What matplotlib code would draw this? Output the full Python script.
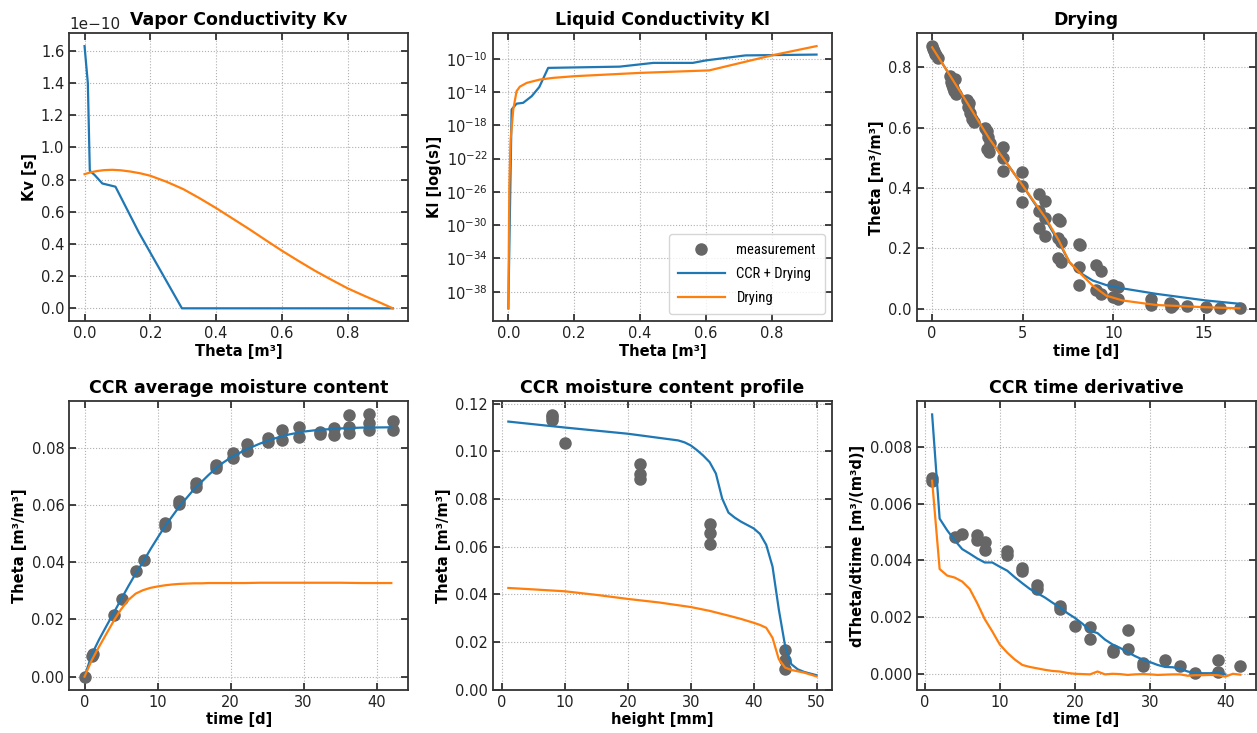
import numpy as np
import matplotlib
matplotlib.use('Agg')
import matplotlib.pyplot as plt

# --- Vapor conductivity Kv (units of 1e-10 s) ---
kv_theta_ccr = [0.0, 0.01, 0.016, 0.031, 0.054, 0.094, 0.165, 0.296, 0.5, 0.7, 0.937]
kv_ccr = [1.63, 1.40, 0.855, 0.828, 0.776, 0.756, 0.472, 0.0, 0.0, 0.0, 0.0]
kv_theta_dry = [0.0, 0.02, 0.04, 0.06, 0.084, 0.11, 0.14, 0.17, 0.2, 0.25, 0.3, 0.35, 0.4,
                0.45, 0.5, 0.55, 0.6, 0.65, 0.7, 0.75, 0.8, 0.85, 0.9, 0.937]
kv_dry = [0.834, 0.846, 0.854, 0.859, 0.861, 0.858, 0.850, 0.839, 0.824, 0.786, 0.741, 0.684,
          0.623, 0.558, 0.493, 0.425, 0.358, 0.295, 0.234, 0.178, 0.124, 0.078, 0.034, 0.0]

# --- Liquid conductivity Kl (log10 values) ---
kl_theta_ccr = [0.0, 0.01, 0.025, 0.045, 0.071, 0.094, 0.121, 0.338, 0.44, 0.56, 0.6, 0.72, 0.936]
kl_ccr_log = [-40.0, -16.1, -15.4, -15.3, -14.5, -13.4, -11.1, -10.95, -10.5, -10.5, -10.2, -9.6, -9.5]
kl_theta_dry = [0.0, 0.003, 0.007, 0.015, 0.025, 0.035, 0.056, 0.096, 0.136, 0.2, 0.3, 0.4, 0.54, 0.61, 0.8, 0.936]
kl_dry_log = [-40.0, -25.3, -19.7, -16.1, -13.9, -13.36, -12.9, -12.5, -12.3, -12.1, -11.9, -11.7, -11.5, -11.4, -9.6, -8.48]

# --- Drying ---
dry_t_meas = [0.0, 0.05, 0.1, 0.15, 0.2, 0.3, 1.0, 1.05, 1.1, 1.15, 1.2, 1.3, 1.25,
              1.9, 2.0, 2.1, 2.2, 2.3, 2.05, 2.9, 3.0, 3.1, 3.2, 3.05, 3.15,
              3.9, 3.9, 3.9, 4.96, 4.96, 4.96, 5.92, 6.2, 5.92, 6.2, 5.92, 6.2,
              6.93, 7.05, 6.95, 7.1, 6.93, 7.1, 8.09, 8.15, 8.1, 8.1, 9.04, 9.3, 9.04, 9.3,
              9.96, 10.25, 9.96, 10.25, 12.1, 12.1, 13.1, 13.2, 13.3, 14.06, 15.1, 15.9, 17.0]
dry_theta_meas = [0.87, 0.86, 0.855, 0.845, 0.84, 0.83, 0.77, 0.75, 0.74, 0.73, 0.72, 0.71, 0.76,
                  0.69, 0.67, 0.65, 0.63, 0.62, 0.68, 0.60, 0.59, 0.57, 0.55, 0.53, 0.52,
                  0.535, 0.50, 0.455, 0.453, 0.408, 0.355, 0.38, 0.357, 0.325, 0.30, 0.267, 0.24,
                  0.298, 0.29, 0.234, 0.22, 0.168, 0.155, 0.215, 0.21, 0.138, 0.08, 0.146, 0.127, 0.061, 0.05,
                  0.08, 0.072, 0.039, 0.033, 0.033, 0.014, 0.02, 0.006, 0.012, 0.011, 0.006, 0.002, 0.002]
dry_t_model = [0.0, 1.69, 3.16, 5.0, 6.29, 7.0, 7.57, 8.12, 8.86, 9.6, 10.5, 12.35, 15.1, 16.95]
dry_ccr = [0.866, 0.706, 0.563, 0.408, 0.292, 0.22, 0.155, 0.121, 0.094, 0.079, 0.068, 0.05, 0.028, 0.017]
dry_dry = [0.866, 0.706, 0.563, 0.408, 0.298, 0.225, 0.155, 0.121, 0.077, 0.044, 0.028, 0.013, 0.0055, 0.002]

# --- CCR average moisture content ---
avg_t_meas = [0, 1.1, 1.0, 4, 5.1, 7.1, 8.1, 11, 11, 13, 13, 15.2, 15.2, 18, 18, 20.3, 20.3,
              22.3, 22.3, 25.1, 25.1, 27, 27, 29.3, 29.3, 32.2, 32.2, 34.1, 34.1,
              36.2, 36.2, 36.2, 39, 39, 39, 42.2, 42.2]
avg_theta_meas = [0.0, 0.0078, 0.0072, 0.0214, 0.027, 0.0368, 0.0409, 0.0536, 0.0525, 0.0612, 0.0603,
                  0.0676, 0.0664, 0.0740, 0.0728, 0.0781, 0.0763, 0.0813, 0.0788, 0.0833, 0.0818,
                  0.0862, 0.0827, 0.0873, 0.0838, 0.0856, 0.0848, 0.0867, 0.0844,
                  0.0914, 0.0873, 0.085, 0.0916, 0.0885, 0.0862, 0.0893, 0.0862]
avg_t_model = [0, 1, 2, 3, 4, 5, 6, 7, 8, 9, 10, 11, 12, 13, 14, 15, 16, 17, 18, 19, 20,
               22, 24, 26, 28, 30, 32, 35, 38, 42]
avg_ccr = [0.0, 0.0078, 0.013, 0.0177, 0.0223, 0.027, 0.0316, 0.036, 0.040, 0.0444, 0.0485,
           0.0525, 0.056, 0.0595, 0.0625, 0.0655, 0.068, 0.0705, 0.0728, 0.0748, 0.0765,
           0.0792, 0.0814, 0.0832, 0.0846, 0.0856, 0.0862, 0.0867, 0.087, 0.0871]
avg_dry = [0.0, 0.0058, 0.0105, 0.015, 0.0195, 0.0235, 0.0268, 0.0290, 0.0302, 0.0310, 0.0315,
           0.0319, 0.0322, 0.0324, 0.0325, 0.0326, 0.0326, 0.0327, 0.0327, 0.0327, 0.0327,
           0.0327, 0.0328, 0.0328, 0.0328, 0.0328, 0.0328, 0.0328, 0.0327, 0.0327]

# --- CCR moisture content profile ---
prof_h_meas = [8, 8, 8, 10, 22, 22, 22, 33, 33, 33, 45, 45, 45]
prof_theta_meas = [0.1154, 0.1143, 0.1132, 0.1035, 0.0946, 0.0907, 0.0886,
                   0.0695, 0.0656, 0.0612, 0.0165, 0.0124, 0.0089]
prof_h_ccr = [1, 10, 20, 28, 29, 30, 31, 32, 33, 34, 35, 36, 37, 38, 40, 41, 42, 43, 44, 45, 46, 47, 48, 50]
prof_ccr = [0.1125, 0.110, 0.1074, 0.1046, 0.1038, 0.1025, 0.1005, 0.0982, 0.0955, 0.0907,
            0.0802, 0.0743, 0.0722, 0.0705, 0.0677, 0.0654, 0.0608, 0.0517, 0.0337, 0.0184,
            0.0107, 0.0086, 0.0075, 0.0061]
prof_h_dry = [1, 5, 10, 15, 20, 25, 30, 33, 36, 38, 40, 41, 42, 43, 44, 45, 46, 48, 50]
prof_dry = [0.0427, 0.0421, 0.0413, 0.0398, 0.0381, 0.0366, 0.0347, 0.0331, 0.0311, 0.0297,
            0.0281, 0.0272, 0.026, 0.0218, 0.0128, 0.0093, 0.0083, 0.0072, 0.0056]

# --- CCR time derivative ---
der_t_meas = [1, 1, 4, 5, 7, 7, 8, 8, 11, 11, 13, 13, 15, 15, 18, 18, 20, 22, 22,
              25, 25, 27, 27, 29, 29, 32, 34, 36, 39, 39, 42]
der_meas = [0.0069, 0.0068, 0.00483, 0.00494, 0.00488, 0.00473, 0.00465, 0.00436,
            0.00433, 0.00419, 0.00372, 0.00364, 0.00314, 0.00299, 0.00241, 0.00229,
            0.00171, 0.00165, 0.00124, 0.00087, 0.00078, 0.00155, 0.0009, 0.00041, 0.00031,
            0.00049, 0.00031, 0.00006, 0.00049, 0.00008, 0.00031]
der_t_ccr = list(range(1, 41))
der_ccr = [0.00913, 0.00547, 0.00506, 0.00471, 0.0044, 0.00424, 0.00407, 0.00393, 0.00393,
           0.00378, 0.00364, 0.00341, 0.0032, 0.0030, 0.00285, 0.0027, 0.00252, 0.00235,
           0.00215, 0.00198, 0.00178, 0.00153, 0.00145, 0.00122, 0.00105, 0.00093, 0.00078,
           0.00064, 0.00052, 0.00043, 0.00033, 0.00026, 0.00025, 0.0002, 0.0001, 0.00005,
           0.00004, 0.00004, 0.00008, 0.0]
der_t_dry = list(range(1, 43))
der_dry = [0.0068, 0.0037, 0.00347, 0.0034, 0.00326, 0.0030, 0.0025, 0.00194, 0.00151,
           0.00105, 0.00076, 0.00052, 0.00033, 0.00026, 0.00021, 0.00016, 0.00012, 0.0001,
           0.00005, 0.00002, 0.00001, 0.0, 0.0001, 0.0, 0.00002, 0.00001, -0.00002, 0.0,
           0.00001, 0.0, -0.00002, -0.00001, 0.0, 0.0, -0.00005, -0.00003, -0.00003,
           -0.00002, -0.00003, -0.00008, 0.00002, -0.00001]

BLUE = '#1f77b4'
ORANGE = '#ff7f0e'
GREY = '#666666'

plt.rcParams['font.family'] = 'DejaVu Sans'
plt.rcParams['font.size'] = 11
plt.rcParams['axes.edgecolor'] = '#333333'
plt.rcParams['axes.linewidth'] = 1.3

fig, axes = plt.subplots(2, 3, figsize=(12.57, 7.33), dpi=100)
fig.subplots_adjust(left=0.055, right=0.999, top=0.955, bottom=0.059, wspace=0.25, hspace=0.277)


def style(ax, title, xlabel, ylabel):
    ax.set_title(title, fontsize=12.5, fontweight='bold')
    ax.set_xlabel(xlabel, fontsize=10.5, fontweight='bold', labelpad=2)
    ax.set_ylabel(ylabel, fontsize=10.5, fontweight='bold', labelpad=3)
    ax.grid(True, color='#b0b0b0', linestyle=':', linewidth=0.8)
    ax.tick_params(direction='in', top=True, right=True, length=5, width=1.2,
                   labelsize=10.5, colors='#222222')
    ax.tick_params(which='minor', length=0)


lw = 1.6
ms = 8

ax = axes[0, 0]
ax.plot(kv_theta_ccr, np.array(kv_ccr) * 1e-10, color=BLUE, lw=lw)
ax.plot(kv_theta_dry, np.array(kv_dry) * 1e-10, color=ORANGE, lw=lw)
style(ax, 'Vapor Conductivity Kv', 'Theta [m³]', 'Kv [s]')

ax = axes[0, 1]
ax.plot([], [], 'o', color=GREY, ms=ms, label='measurement')
ax.plot(kl_theta_ccr, 10.0 ** np.array(kl_ccr_log), color=BLUE, lw=lw, label='CCR + Drying')
ax.plot(kl_theta_dry, 10.0 ** np.array(kl_dry_log), color=ORANGE, lw=lw, label='Drying')
ax.set_yscale('log')
ax.set_yticks([1e-10, 1e-14, 1e-18, 1e-22, 1e-26, 1e-30, 1e-34, 1e-38])
style(ax, 'Liquid Conductivity Kl', 'Theta [m³]', 'Kl [log(s)]')
ax.legend(loc='lower right', prop={'family': ['Roboto Condensed', 'Roboto', 'DejaVu Sans'], 'size': 10.5},
          framealpha=0.8, edgecolor='#cccccc', handlelength=3.2, borderpad=0.6, labelspacing=0.7)

ax = axes[0, 2]
ax.plot(dry_t_meas, dry_theta_meas, 'o', color=GREY, ms=ms, zorder=2)
ax.plot(dry_t_model, dry_ccr, color=BLUE, lw=lw, zorder=3)
ax.plot(dry_t_model, dry_dry, color=ORANGE, lw=lw, zorder=4)
style(ax, 'Drying', 'time [d]', 'Theta [m³/m³]')

ax = axes[1, 0]
ax.plot(avg_t_meas, avg_theta_meas, 'o', color=GREY, ms=ms, zorder=2)
ax.plot(avg_t_model, avg_ccr, color=BLUE, lw=lw, zorder=3)
ax.plot(avg_t_model, avg_dry, color=ORANGE, lw=lw, zorder=4)
style(ax, 'CCR average moisture content', 'time [d]', 'Theta [m³/m³]')

ax = axes[1, 1]
ax.plot(prof_h_meas, prof_theta_meas, 'o', color=GREY, ms=ms, zorder=2)
ax.plot(prof_h_ccr, prof_ccr, color=BLUE, lw=lw, zorder=3)
ax.plot(prof_h_dry, prof_dry, color=ORANGE, lw=lw, zorder=4)
ax.set_ylim(0, 0.121)
style(ax, 'CCR moisture content profile', 'height [mm]', 'Theta [m³/m³]')

ax = axes[1, 2]
ax.plot(der_t_meas, der_meas, 'o', color=GREY, ms=ms, zorder=2)
ax.plot(der_t_ccr, der_ccr, color=BLUE, lw=lw, zorder=3)
ax.plot(der_t_dry, der_dry, color=ORANGE, lw=lw, zorder=4)
style(ax, 'CCR time derivative', 'time [d]', 'dTheta/dtime [m³/(m³d)]')

fig.savefig('out.png', dpi=100)
